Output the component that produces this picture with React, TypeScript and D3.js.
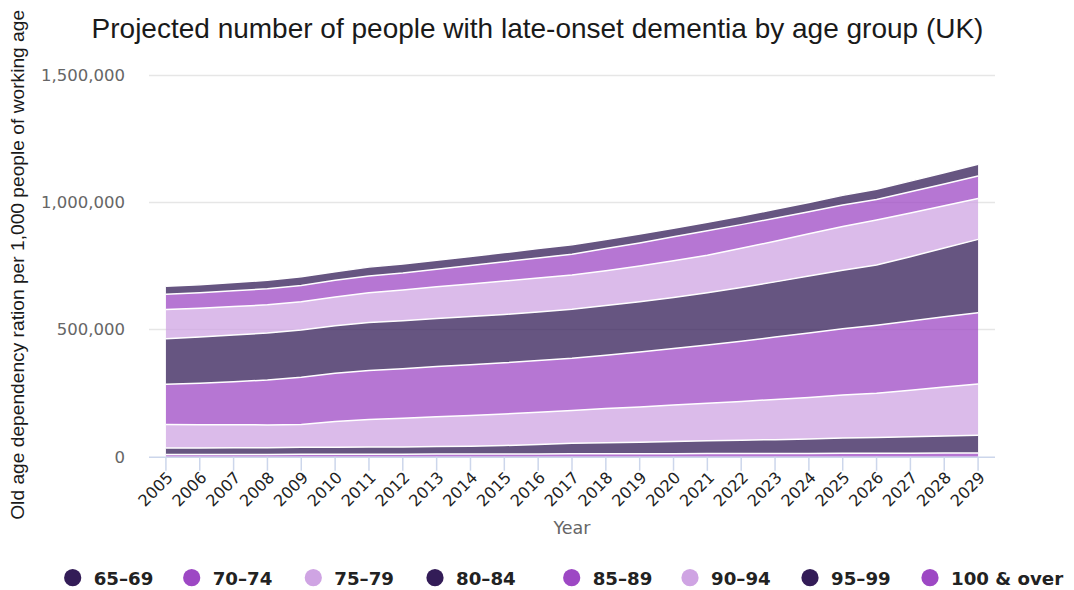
import React from 'react';
import * as d3 from 'd3';

const years = [2005, 2006, 2007, 2008, 2009, 2010, 2011, 2012, 2013, 2014, 2015, 2016, 2017, 2018, 2019, 2020, 2021, 2022, 2023, 2024, 2025, 2026, 2027, 2028, 2029];

const ageGroups = ['65–69', '70–74', '75–79', '80–84', '85–89', '90–94', '95–99', '100 & over'];

// thousands of people
const age65_69 = [32, 32, 33, 33, 34, 34, 35, 35, 35, 36, 36, 37, 37, 36, 35, 34, 33, 34, 35, 36, 38, 40, 42, 44, 46];
const age70_74 = [60, 61, 62, 63, 64, 65, 66, 67, 69, 72, 76, 79, 82, 87, 91, 94, 96, 93, 90, 87, 84, 81, 83, 86, 88];
const age75_79 = [114, 113, 112, 111, 111, 113, 117, 121, 125, 128, 131, 133, 135, 137, 140, 144, 148, 154, 160, 166, 172, 177, 172, 166, 161];
const age80_84 = [179, 181, 183, 185, 186, 187, 188, 188, 189, 190, 190, 191, 192, 195, 198, 201, 205, 211, 217, 224, 230, 236, 253, 270, 288];
const age85_89 = [158, 163, 169, 176, 185, 190, 193, 195, 197, 199, 201, 203, 205, 210, 216, 222, 229, 237, 245, 253, 261, 268, 272, 276, 280];
const age90_94 = [93, 92, 91, 90, 90, 101, 108, 113, 117, 121, 124, 127, 129, 134, 138, 143, 147, 152, 158, 163, 169, 174, 183, 193, 202];
const age95_99 = [25, 25, 26, 26, 27, 27, 28, 28, 29, 30, 33, 37, 41, 43, 45, 48, 50, 52, 54, 57, 59, 61, 64, 66, 69];
const age100plus = [9, 9, 9, 9, 10, 10, 10, 10, 11, 11, 11, 11, 12, 12, 12, 12, 13, 13, 13, 13, 14, 14, 14, 15, 15];

const seriesValues = [age65_69, age70_74, age75_79, age80_84, age85_89, age90_94, age95_99, age100plus];
const seriesColors = ['#331c57', '#9d48c4', '#cfa4e3', '#331c57', '#9d48c4', '#cfa4e3', '#331c57', '#9d48c4'];

const yTicks = [0, 500000, 1000000, 1500000];

const W = 1074;
const H = 590;
const plotLeft = 149;
const plotRight = 995;
const plotTop = 75;
const plotBottom = 456.7;

const labelFont = '"Lucida Grande", "DejaVu Sans", Verdana, sans-serif';
const titleFont = '"Liberation Sans", Arial, Helvetica, sans-serif';

export default function App() {
  const rows = years.map((yr, i) => {
    const r: Record<string, number> = { year: yr };
    ageGroups.forEach((g, k) => {
      r[g] = seriesValues[k][i] * 1000;
    });
    return r;
  });

  // Highcharts stacks first series on top: bottom of stack is the last group
  const stackKeys = [...ageGroups].reverse();
  const stacked = d3.stack<Record<string, number>>().keys(stackKeys)(rows);

  const x = d3.scalePoint<number>().domain(years).range([plotLeft, plotRight]).padding(0.5);
  const y = d3.scaleLinear().domain([0, 1500000]).range([plotBottom, plotTop]);

  const area = d3
    .area<d3.SeriesPoint<Record<string, number>>>()
    .x((d) => x(d.data.year) as number)
    .y0((d) => y(d[0]))
    .y1((d) => y(d[1]));

  const line = d3
    .line<d3.SeriesPoint<Record<string, number>>>()
    .x((d) => x(d.data.year) as number)
    .y((d) => y(d[1]));

  const fmt = d3.format(',');

  const legendX = [72.7, 191.7, 313.3, 435, 571.7, 690, 810, 930];

  return (
    <svg width={W} height={H} style={{ position: 'absolute', left: 0, top: 0, background: '#fff' }}>
      <rect x={0} y={0} width={W} height={H} fill="#ffffff" />
      <text x={537.5} y={38} textAnchor="middle" fontFamily={titleFont} fontSize={28} fill="#1a1a1a">
        Projected number of people with late-onset dementia by age group (UK)
      </text>

      {/* grid lines */}
      {yTicks.filter((t) => t > 0).map((t) => (
        <line key={t} x1={plotLeft} x2={plotRight} y1={Math.round(y(t)) + 0.5} y2={Math.round(y(t)) + 0.5} stroke="#e6e6e6" strokeWidth={1.5} />
      ))}

      {/* areas */}
      {stacked.map((s) => {
        const idx = ageGroups.indexOf(s.key);
        return (
          <path key={s.key} d={area(s) || ''} fill={seriesColors[idx]} fillOpacity={0.75} stroke="none" />
        );
      })}
      {stacked.map((s) => (
        <path key={'l' + s.key} d={line(s) || ''} fill="none" stroke="#ffffff" strokeWidth={1.5} />
      ))}

      {/* y labels */}
      {yTicks.map((t) => (
        <text key={t} x={125} y={y(t)} dy="0.36em" textAnchor="end" fontFamily={labelFont} fontSize={16.5} fill="#666666">
          {fmt(t)}
        </text>
      ))}

      {/* x axis */}
      <line x1={plotLeft} x2={plotRight} y1={plotBottom + 0.5} y2={plotBottom + 0.5} stroke="#ccd6eb" strokeWidth={1.5} />
      {years.map((yr) => (
        <line key={yr} x1={x(yr)} x2={x(yr)} y1={plotBottom} y2={plotBottom + 14} stroke="#ccd6eb" strokeWidth={1.5} />
      ))}
      {years.map((yr) => (
        <text
          key={'t' + yr}
          transform={`translate(${(x(yr) as number) + 4},${plotBottom + 18}) rotate(-45)`}
          textAnchor="end"
          dy="0.35em"
          fontFamily={labelFont}
          fontSize={16}
          fill="#222222"
        >
          {yr}
        </text>
      ))}
      <text x={(plotLeft + plotRight) / 2} y={534} textAnchor="middle" fontFamily={labelFont} fontSize={17.5} fill="#666666">
        Year
      </text>

      {/* y axis title */}
      <text
        transform={`translate(24,${(plotTop + plotBottom) / 2 - 1}) rotate(-90)`}
        textAnchor="middle"
        fontFamily={titleFont}
        fontSize={19.2}
        fill="#1a1a1a"
      >
        Old age dependency ration per 1,000 people of working age
      </text>

      {/* legend */}
      {ageGroups.map((g, i) => (
        <g key={g}>
          <circle cx={legendX[i]} cy={577.7} r={8.6} fill={seriesColors[i]} />
          <text x={legendX[i] + 21} y={584.5} fontFamily={labelFont} fontWeight="bold" fontSize={18.2} fill="#222222">
            {g}
          </text>
        </g>
      ))}
    </svg>
  );
}
